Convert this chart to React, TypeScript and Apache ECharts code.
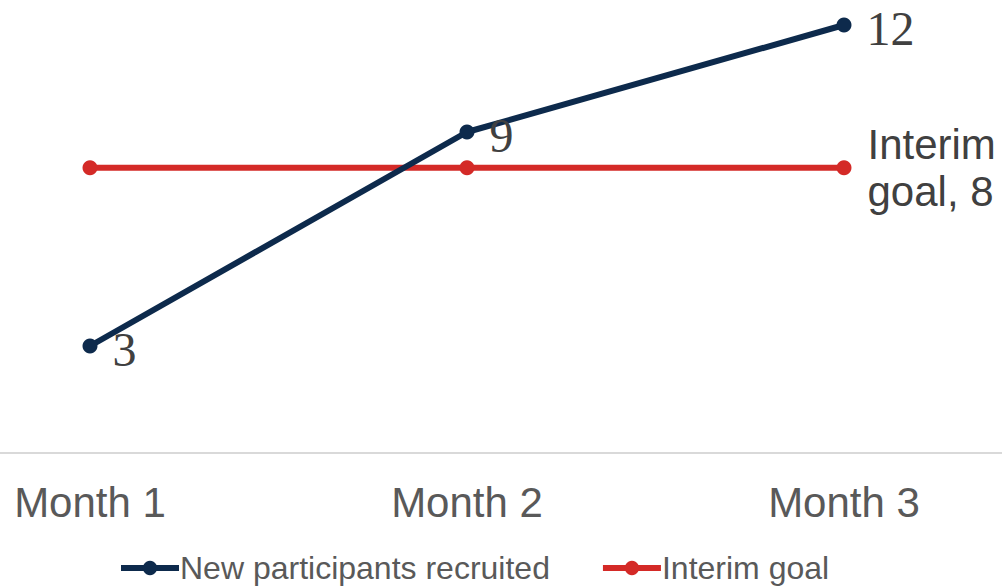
import React, { useEffect, useRef } from "react";
import * as echarts from "echarts";

const categories = ["Month 1", "Month 2", "Month 3"];
const recruited = [3, 9, 12];
const interimGoal = [8, 8, 8];
const seriesNames = ["New participants recruited", "Interim goal"];

export default function App() {
  const ref = useRef<HTMLDivElement>(null);
  useEffect(() => {
    const chart = echarts.init(ref.current!, null, { renderer: "svg" });
    const sans = "'Liberation Sans', Arial, sans-serif";
    const serif = "'Liberation Serif', 'Times New Roman', serif";
    chart.setOption({
      animation: false,
      grid: { left: 90, right: 158, top: 25, bottom: 134, containLabel: false },
      xAxis: {
        type: "category",
        data: categories,
        boundaryGap: false,
        axisLine: { show: false },
        axisTick: { show: false },
        axisLabel: { color: "#595959", fontSize: 42, fontFamily: sans, margin: 28 },
        splitLine: { show: false },
      },
      yAxis: {
        type: "value",
        min: 0,
        max: 12,
        show: false,
        splitLine: { show: false },
      },
      legend: {
        left: 118,
        top: 552,
        padding: 0,
        itemWidth: 58,
        itemHeight: 18,
        itemGap: 50,
        lineStyle: { width: 6 },
        textStyle: { color: "#595959", fontSize: 32, fontFamily: sans, padding: [0, 0, 0, -4] },
        data: seriesNames,
      },
      series: [
        {
          name: seriesNames[0],
          type: "line",
          data: recruited,
          color: "#0d2a4c",
          symbol: "circle",
          symbolSize: 15,
          lineStyle: { width: 6, color: "#0d2a4c" },
          itemStyle: { color: "#0d2a4c" },
          label: {
            show: true,
            position: "right",
            distance: 15,
            offset: [0, 3],
            color: "#404040",
            fontSize: 48,
            fontFamily: serif,
          },
          z: 3,
        },
        {
          name: seriesNames[1],
          type: "line",
          data: interimGoal,
          color: "#d42a27",
          symbol: "circle",
          symbolSize: 15,
          lineStyle: { width: 6, color: "#d42a27" },
          itemStyle: { color: "#d42a27" },
          label: {
            show: true,
            position: "right",
            distance: 16,
            color: "#404040",
            fontSize: 42,
            lineHeight: 47,
            fontFamily: sans,
            formatter: (p: any) =>
              p.dataIndex === interimGoal.length - 1 ? "Interim\ngoal, " + p.value : "",
          },
          z: 2,
        },
      ],
    });
    const y0 = chart.convertToPixel({ yAxisIndex: 0 }, 0) as number;
    chart.setOption({
      graphic: [
        {
          type: "line",
          shape: { x1: 0, y1: y0, x2: 1002, y2: y0 },
          style: { stroke: "#d9d9d9", lineWidth: 2 },
          z: 0,
        },
      ],
    });
    return () => chart.dispose();
  }, []);
  return (
    <div
      ref={ref}
      style={{ position: "fixed", left: 0, top: 0, width: 1002, height: 587, background: "#fff" }}
    />
  );
}
